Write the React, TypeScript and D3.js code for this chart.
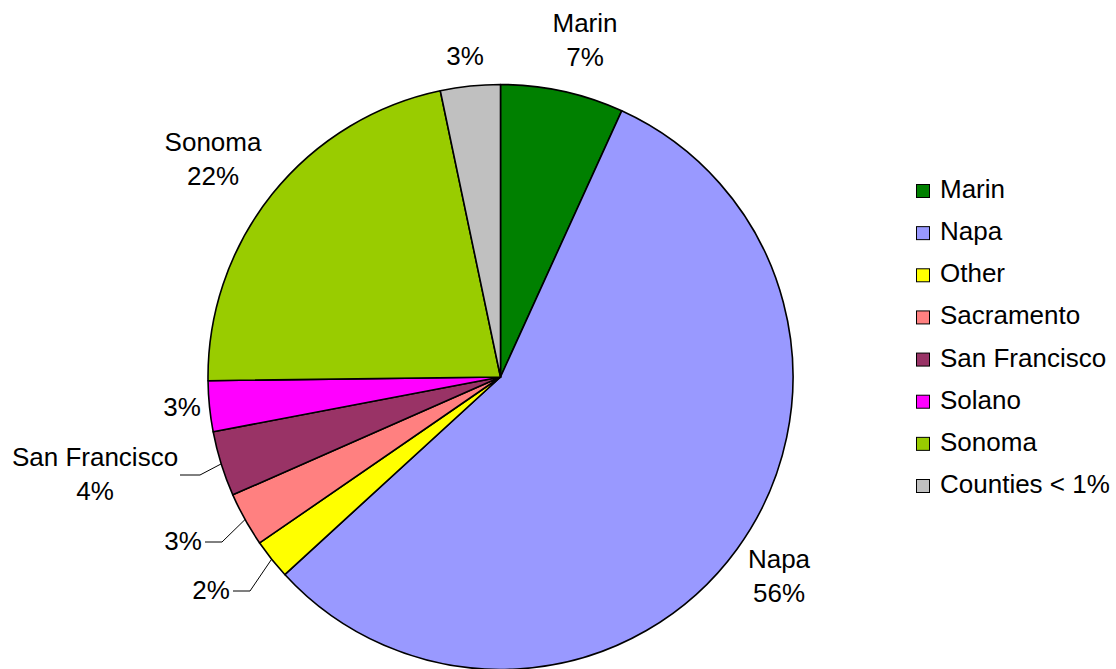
import React from "react";
import * as d3 from "d3";

// shares of total, clockwise from 12 o'clock
const counties = [
  "Marin",
  "Napa",
  "Other",
  "Sacramento",
  "San Francisco",
  "Solano",
  "Sonoma",
  "Counties < 1%",
];
const shares = [6.8, 56.4, 2.2, 3.0, 3.6, 2.8, 21.9, 3.3];
const colors = [
  "#008000",
  "#9999FF",
  "#FFFF00",
  "#FF8080",
  "#993366",
  "#FF00FF",
  "#99CC00",
  "#C0C0C0",
];

const W = 1116;
const H = 669;
const cx = 500.5;
const cy = 377;
const R = 292.5;
const font = "'Liberation Sans', Arial, Helvetica, sans-serif";
const fs = 26;
const lineH = 34;

// where the data labels sit (text centre x, first baseline); leader = horizontal part of leader line
const labelLayout: Record<
  string,
  { x: number; y: number; name: boolean; leader?: { x1: number; x2: number; y: number } }
> = {
  Marin: { x: 585, y: 32, name: true },
  Napa: { x: 779, y: 568, name: true },
  Other: { x: 211, y: 599, name: false, leader: { x1: 233, x2: 250, y: 591 } },
  Sacramento: { x: 183, y: 550, name: false, leader: { x1: 205, x2: 222, y: 542 } },
  "San Francisco": { x: 95, y: 466, name: true, leader: { x1: 180, x2: 200, y: 475 } },
  Solano: { x: 182, y: 416, name: false },
  Sonoma: { x: 213, y: 151, name: true },
  "Counties < 1%": { x: 465, y: 65, name: false },
};

const App = () => {
  const pie = d3
    .pie<number>()
    .sort(null)
    .value((d) => d);
  const arcs = pie(shares);
  const arc = d3.arc<d3.PieArcDatum<number>>().innerRadius(0).outerRadius(R);

  const legendY = d3
    .scalePoint<string>()
    .domain(counties)
    .range([198, 493]);

  return (
    <svg
      width={W}
      height={H}
      style={{ position: "absolute", left: 0, top: 0, background: "#fff" }}
      fontFamily={font}
    >
      <g transform={`translate(${cx},${cy})`}>
        {arcs.map((a, i) => (
          <path
            key={counties[i]}
            d={arc(a) || ""}
            fill={colors[i]}
            stroke="#000"
            strokeWidth={1.6}
            strokeLinejoin="round"
          />
        ))}
      </g>

      {arcs.map((a, i) => {
        const name = counties[i];
        const lay = labelLayout[name];
        const pct = Math.round(a.data) + "%";
        const mid = (a.startAngle + a.endAngle) / 2;
        const px = cx + R * Math.sin(mid);
        const py = cy - R * Math.cos(mid);
        return (
          <g key={name}>
            {lay.leader && (
              <polyline
                points={`${lay.leader.x1},${lay.leader.y} ${lay.leader.x2},${lay.leader.y} ${px},${py}`}
                fill="none"
                stroke="#000"
                strokeWidth={1}
              />
            )}
            <text x={lay.x} y={lay.y} textAnchor="middle" fontSize={fs} fill="#000">
              {lay.name ? (
                <>
                  <tspan x={lay.x}>{name}</tspan>
                  <tspan x={lay.x} dy={lineH}>
                    {pct}
                  </tspan>
                </>
              ) : (
                pct
              )}
            </text>
          </g>
        );
      })}

      <g>
        {counties.map((c, i) => {
          const y = legendY(c) as number;
          return (
            <g key={c}>
              <rect
                x={916.5}
                y={y - 13.5}
                width={13}
                height={13}
                fill={colors[i]}
                stroke="#000"
                strokeWidth={1}
              />
              <text x={940} y={y} fontSize={fs} fill="#000">
                {c}
              </text>
            </g>
          );
        })}
      </g>
    </svg>
  );
};

export default App;
